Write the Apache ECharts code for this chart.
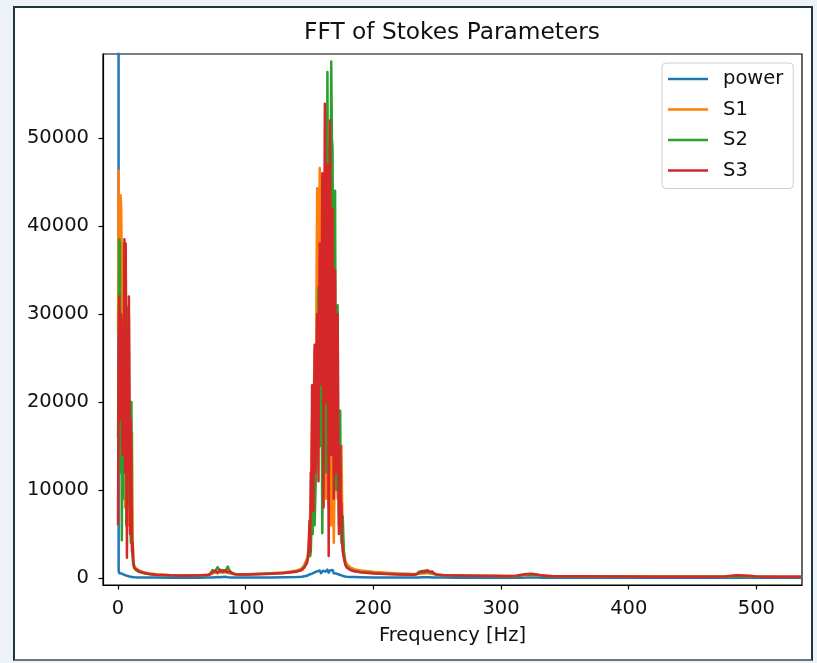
<!DOCTYPE html>
<html>
<head>
<meta charset="utf-8">
<script src="https://cdn.jsdelivr.net/npm/echarts@6/dist/echarts.min.js"></script>
<style>
  html, body { margin: 0; padding: 0; width: 817px; height: 663px; background: #eef3f7; overflow: hidden; }
  #panel { position: absolute; left: 13px; top: 6px; width: 796px; height: 651px; background: #fff;
           border: 2px solid #1e3440; border-bottom-color: #6b7378; }
  #chart { position: absolute; left: 0; top: 0; width: 817px; height: 663px; }
</style>
</head>
<body>
<div id="panel"></div>
<div id="chart"></div>
<script>
// Frequency bins [Hz] shared by every spectrum
const freq = [
  0, 0.5, 1, 1.5, 2, 2.5, 3, 3.5, 4, 4.5, 5, 5.5, 6, 6.5, 7, 7.5, 8, 8.5, 9, 9.5, 10, 10.5, 11, 11.5, 12, 12.5, 13, 13.5, 14,
  16, 20, 25, 30, 40, 50, 60, 65, 70,
  72, 74, 76, 78, 80, 82, 84, 86, 88, 90, 92,
  95, 100, 110, 120, 130, 140, 144, 146,
  148, 149,
  150, 150.5, 151, 151.5, 152, 152.5, 153, 153.5, 154, 154.5,
  155, 155.5, 156, 156.5, 157, 157.5, 158, 158.5, 159, 159.5,
  160, 160.5, 161, 161.5, 162, 162.5, 163, 163.5, 164, 164.5,
  165, 165.5, 166, 166.5, 167, 167.5, 168, 168.5, 169, 169.5,
  170, 170.5, 171, 171.5, 172, 172.5, 173, 173.5, 174, 174.5,
  175, 175.5, 176,
  177, 178, 179, 180,
  182, 185, 190, 200, 210, 220, 228, 232,
  234, 236, 238, 240, 242, 244, 246, 248, 250,
  255, 265, 280, 295, 305, 312,
  316, 320, 324, 328, 332,
  340, 360, 380, 400, 420, 440, 460, 475,
  480, 485, 490, 495, 500,
  510, 520, 535
];

// FFT magnitude of the total power (DC bin runs far off the top)
const power = [
  400000, 800, 550, 700, 450, 600, 500, 650, 400, 550, 350, 500, 300, 420, 250, 350, 220, 300, 180, 200, 150, 140, 120, 110, 100, 90, 80, 75, 70,
  60, 55, 50, 45, 40, 40, 40, 40, 45,
  50, 60, 90, 120, 80, 110, 130, 90, 70, 60, 50,
  50, 55, 60, 70, 80, 110, 150, 200,
  250, 300,
  400, 380, 350, 450, 500, 460, 420, 550, 650, 580,
  500, 620, 750, 680, 600, 720, 850, 700, 550, 650,
  700, 820, 900, 760, 650, 720, 800, 880, 950, 780,
  600, 700, 850, 760, 700, 800, 900, 700, 550, 650,
  750, 620, 500, 560, 600, 480, 400, 430, 450, 350,
  300, 280, 250,
  200, 170, 150, 130,
  110, 100, 85, 70, 60, 55, 50, 50,
  55, 70, 90, 80, 100, 85, 70, 60, 50,
  45, 40, 35, 30, 30, 30,
  40, 55, 60, 50, 35,
  30, 28, 26, 25, 24, 24, 24, 25,
  30, 40, 35, 30, 25,
  22, 20, 20
];

const s1 = [
  28000, 46300, 30000, 20000, 43500, 42000, 35000, 22000, 38000, 15000, 32000, 8000, 37500, 18000, 28000, 12000, 22000, 6000, 15000, 12000, 9000, 11000, 16500, 4000, 2000, 1500, 1300, 1150, 1050,
  900, 650, 500, 420, 330, 300, 300, 320, 360,
  400, 500, 620, 550, 700, 600, 650, 560, 520, 460, 420,
  420, 440, 480, 540, 640, 850, 1100, 1500,
  2200, 3000,
  5200, 7000, 9000, 14000, 18000, 10000, 12000, 22000, 26000, 15000,
  20000, 34000, 44300, 28000, 30000, 40000, 46600, 32000, 24000, 30000,
  38000, 20000, 14000, 25000, 31000, 18000, 9000, 20000, 27000, 15000,
  8000, 16000, 22000, 12000, 6000, 14000, 20000, 9000, 4000, 10000,
  16000, 22000, 26000, 15000, 9000, 12000, 14000, 8000, 6000, 12000,
  15000, 9000, 4500,
  3000, 2000, 1600, 1400,
  1200, 1000, 850, 700, 600, 520, 470, 450,
  440, 480, 520, 500, 560, 520, 480, 430, 380,
  340, 300, 270, 250, 240, 240,
  280, 330, 300, 320, 260,
  220, 200, 185, 175, 165, 160, 160, 170,
  200, 230, 220, 200, 170,
  150, 140, 130
];

const s2 = [
  16000, 25000, 38500, 38000, 12000, 27000, 4300, 20000, 9000, 24000, 14000, 22000, 30000, 6000, 24000, 17000, 30800, 30000, 8000, 20000, 4000, 20000, 3000, 2200, 1500, 1200, 1050, 980, 920,
  700, 550, 420, 350, 280, 260, 260, 280, 310,
  450, 900, 700, 1250, 650, 900, 700, 1300, 600, 550, 430,
  400, 410, 450, 500, 580, 760, 950, 1300,
  1900, 2600,
  4100, 2500, 3000, 6000, 9000, 5000, 16000, 10000, 6000, 9000,
  12000, 18000, 22000, 15000, 33000, 20000, 15000, 26000, 36000, 22000,
  5100, 14000, 28000, 34000, 42000, 26000, 12000, 38000, 57500, 40000,
  30000, 22000, 18000, 45000, 58700, 50000, 48900, 30000, 25000, 36000,
  44000, 20000, 10000, 22000, 31000, 15000, 6000, 12000, 19000, 8000,
  4000, 6500, 7000,
  2500, 1700, 1300, 1100,
  950, 800, 680, 560, 480, 420, 390, 380,
  500, 750, 600, 850, 650, 700, 550, 450, 360,
  300, 270, 240, 220, 210, 220,
  300, 420, 350, 380, 240,
  190, 170, 160, 150, 140, 135, 135, 150,
  190, 240, 210, 190, 150,
  130, 120, 110
];

const s3 = [
  6000, 27000, 32000, 18000, 24000, 30000, 27000, 14000, 26000, 20000, 38500, 12000, 38000, 22000, 2300, 25000, 16000, 32000, 20000, 5000, 18000, 9000, 3000, 4000, 1800, 1400, 1100, 980, 900,
  800, 600, 450, 380, 300, 270, 280, 300, 330,
  420, 650, 850, 600, 950, 700, 900, 650, 750, 500, 420,
  400, 410, 440, 490, 560, 720, 900, 1200,
  1700, 2400,
  6500, 3000, 12000, 8000, 21900, 14000, 7600, 18000, 26500, 12000,
  16000, 24000, 30000, 20000, 11000, 28000, 38000, 25000, 22000, 31000,
  46000, 30000, 8000, 35000, 53900, 40000, 20000, 33000, 47000, 25000,
  2500, 30000, 52000, 36000, 14000, 28000, 42000, 22000, 9000, 26000,
  35000, 18000, 12000, 24000, 30000, 14000, 5000, 11000, 15000, 6000,
  8500, 4000, 3000,
  2200, 1500, 1200, 1000,
  900, 760, 640, 520, 450, 400, 370, 360,
  420, 600, 800, 650, 900, 700, 750, 500, 380,
  320, 280, 250, 230, 220, 250,
  380, 450, 480, 400, 300,
  210, 190, 175, 165, 155, 150, 150, 180,
  250, 300, 280, 260, 180,
  150, 140, 130
];

const seriesNames = ['power', 'S1', 'S2', 'S3'];
const seriesColors = ['#1f77b4', '#ff7f0e', '#2ca02c', '#d62728'];
const xTicks = [0, 100, 200, 300, 400, 500];
const yTicks = [0, 10000, 20000, 30000, 40000, 50000];

const FONT = 'DejaVu Sans';
const TEXT_COLOR = '#111';
const LABEL_SIZE = 19.5;
const axisLine = { show: true, onZero: false, lineStyle: { color: '#000', width: 1.2 } };
const plainNumber = v => String(v);

const chart = echarts.init(document.getElementById('chart'), null, { renderer: 'canvas' });

const spectra = [power, s1, s2, s3];

chart.setOption({
  animation: false,
  title: {
    text: 'FFT of Stokes Parameters',
    left: 447,
    top: 16,
    textAlign: 'center',
    textStyle: { fontFamily: FONT, fontSize: 23.3, fontWeight: 'normal', color: TEXT_COLOR }
  },
  grid: {
    left: 103, top: 54, width: 699, height: 531,
    show: true, borderColor: '#000', borderWidth: 1.2, backgroundColor: 'transparent'
  },
  legend: {
    orient: 'vertical',
    left: 662, top: 63,
    icon: 'rect',
    itemWidth: 40, itemHeight: 2.5, itemGap: 8.5,
    padding: [5, 10, 7, 6],
    borderColor: '#d0d0d0', borderWidth: 1, borderRadius: 4,
    backgroundColor: 'rgba(255,255,255,0.8)',
    textStyle: { fontFamily: FONT, fontSize: LABEL_SIZE, color: TEXT_COLOR, lineHeight: 22, padding: [0, 0, 0, 10] },
    data: seriesNames
  },
  xAxis: {
    type: 'value',
    min: -11.76, max: 535.7,
    axisLine: axisLine,
    axisTick: { show: true, length: 4.5, customValues: xTicks, lineStyle: { color: '#000', width: 1.2 } },
    axisLabel: { customValues: xTicks, formatter: plainNumber, fontFamily: FONT, fontSize: LABEL_SIZE, color: TEXT_COLOR, margin: 14 },
    splitLine: { show: false },
    name: 'Frequency [Hz]',
    nameLocation: 'middle',
    nameGap: 41,
    nameTextStyle: { fontFamily: FONT, fontSize: LABEL_SIZE, color: TEXT_COLOR }
  },
  yAxis: {
    type: 'value',
    min: -795, max: 59545,
    axisLine: axisLine,
    axisTick: { show: true, length: 4.5, customValues: yTicks, lineStyle: { color: '#000', width: 1.2 } },
    axisLabel: { customValues: yTicks, formatter: plainNumber, fontFamily: FONT, fontSize: LABEL_SIZE, color: TEXT_COLOR, margin: 14 },
    splitLine: { show: false }
  },
  series: seriesNames.map((name, k) => ({
    name: name,
    type: 'line',
    data: freq.map((f, i) => [f, spectra[k][i]]),
    showSymbol: false,
    symbol: 'none',
    clip: true,
    silent: true,
    color: seriesColors[k],
    lineStyle: { width: 2.5, color: seriesColors[k], join: 'round' },
    emphasis: { disabled: true }
  }))
});
</script>
</body>
</html>
